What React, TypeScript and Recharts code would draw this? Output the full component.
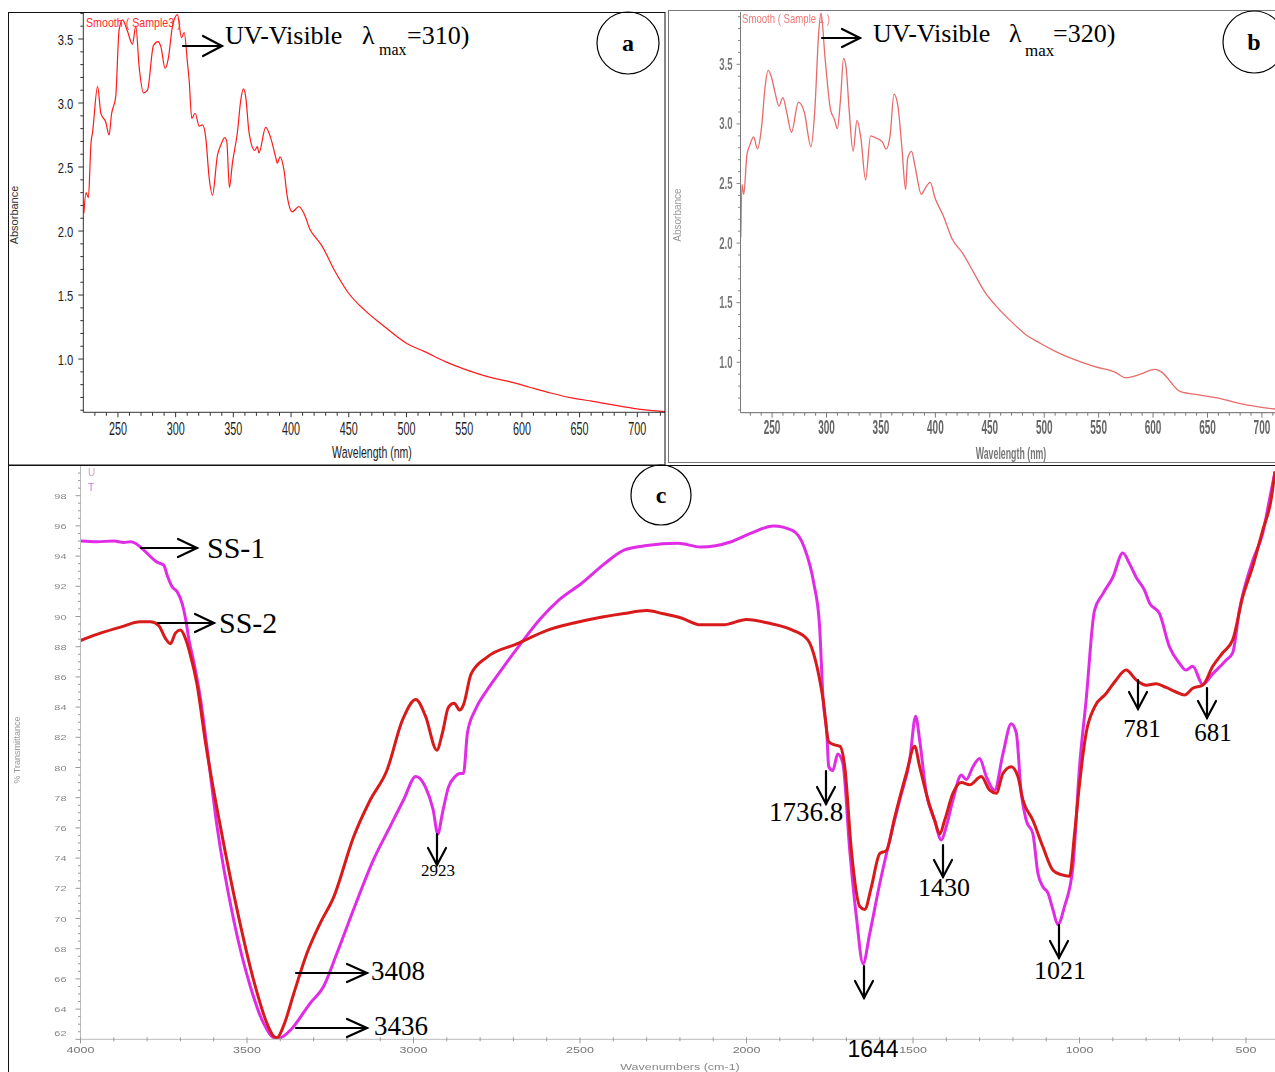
import React from 'react';
import { LineChart, Line, XAxis, YAxis } from 'recharts';

// ---------- UV-Vis spectrum, sample 3 (panel a) ----------
const uvA_wavelength = [
  220.5, 222.4, 224.4, 226.7, 228, 232.4, 235.2, 239.5, 242.4, 244.4, 248.1, 251, 254, 258.3, 262.6,
  265.5, 268.4, 272.2, 275.6, 280.8, 284.8, 287.2, 290.9, 293.5, 297.3, 301.6, 305.1, 307.4, 310.3,
  311.7, 314, 316.9, 320.4, 323.3, 326.1, 329, 331.9, 336.2, 339.1, 342.5, 344.3, 346.6, 349.2, 353.5,
  356.4, 358.7, 360.7, 363.6, 368.5, 370.8, 372.2, 378, 382.3, 386.6, 388.1, 390.4, 393.8, 396.7, 401,
  406.8, 412.5, 416, 421.2, 425.6, 438.4, 449.4, 464, 478.7, 500.6, 515.3, 533.6, 551.9, 570.2, 588.5,
  606.7, 625, 643.3, 661.6, 680, 698, 724,
];
const uvA_absorbance = [
  2.14, 2.3, 2.26, 2.69, 2.77, 3.13, 2.92, 2.85, 2.75, 2.91, 3.05, 3.57, 3.65, 3.56, 3.46,
  3.6, 3.28, 3.08, 3.1, 3.45, 3.48, 3.44, 3.27, 3.34, 3.6, 3.69, 3.51, 3.55, 3.31,
  3.18, 2.88, 2.92, 2.82, 2.83, 2.73, 2.42, 2.28, 2.59, 2.67, 2.73, 2.7, 2.34, 2.53, 2.77,
  3.02, 3.11, 3.05, 2.77, 2.63, 2.66, 2.61, 2.81, 2.73, 2.58, 2.53, 2.58, 2.48, 2.27, 2.15,
  2.19, 2.11, 2.02, 1.95, 1.9, 1.68, 1.52, 1.38, 1.27, 1.12, 1.06, 0.98, 0.915, 0.863, 0.825,
  0.78, 0.735, 0.696, 0.67, 0.64, 0.613, 0.59,
];

// ---------- UV-Vis spectrum, sample 1 (panel b) ----------
const uvB_wavelength = [
  221.3, 222.3, 224, 226.9, 229.5, 233, 236.6, 240.2, 243.7, 246.3, 249.2, 252.8, 256.3, 259.9, 263.4,
  267.8, 274.2, 279.6, 285.7, 289.3, 292.8, 295, 298.6, 303.7, 307.2, 310, 312.9, 315.7, 317.9, 320.8,
  324.4, 328, 331.6, 335.9, 340.5, 345.9, 351.3, 354.8, 358.4, 362, 365.6, 369.1, 372.7, 374.5, 378.1,
  381.6, 387.1, 390.6, 395.3, 399.6, 406.8, 415.7, 424.7, 435.4, 446.1, 455.1, 467.7, 482, 496.3, 510.7,
  528.6, 546.5, 564.5, 575.2, 585.9, 602, 607.5, 625.3, 643.2, 661.1, 679, 697, 713,
];
const uvB_absorbance = [
  2.05, 2.49, 2.41, 2.74, 2.82, 2.89, 2.79, 2.96, 3.32, 3.45, 3.4, 3.26, 3.15, 3.22, 3.1,
  2.93, 3.18, 3.1, 2.81, 3.12, 3.76, 3.93, 3.56, 3.12, 3.04, 2.96, 3.21, 3.55, 3.48, 3.12,
  2.77, 3.03, 2.88, 2.53, 2.9, 2.88, 2.85, 2.79, 2.9, 3.25, 3.15, 2.82, 2.45, 2.71, 2.77,
  2.63, 2.41, 2.46, 2.51, 2.38, 2.24, 2.03, 1.92, 1.75, 1.58, 1.48, 1.36, 1.24, 1.16, 1.09,
  1.02, 0.963, 0.92, 0.87, 0.893, 0.94, 0.92, 0.753, 0.725, 0.697, 0.655, 0.626, 0.607,
];

// ---------- FTIR, SS-1 ----------
const ss1_wavenumber = [
  4000, 3950, 3900, 3870, 3850, 3835, 3815, 3770, 3750, 3740, 3725, 3710, 3694, 3684, 3675, 3660, 3640,
  3620, 3590, 3540, 3490, 3450, 3415, 3400, 3370, 3310, 3270, 3230, 3180, 3120, 3070, 3030, 2993, 2964,
  2941, 2927, 2913, 2895, 2875, 2861, 2850, 2838, 2815, 2780, 2735, 2678, 2621, 2563, 2495, 2426, 2368,
  2299, 2206, 2137, 2046, 1988, 1919, 1862, 1827, 1798, 1781, 1770, 1759, 1753, 1741, 1726, 1711, 1690,
  1670, 1650, 1630, 1600, 1570, 1540, 1510, 1492, 1480, 1460, 1435, 1415, 1400, 1380, 1355, 1340, 1320,
  1300, 1280, 1255, 1230, 1205, 1190, 1175, 1160, 1140, 1125, 1110, 1095, 1080, 1065, 1045, 1020, 1000,
  980, 955, 930, 900, 870, 850, 830, 805, 790, 760, 730, 700, 680, 660, 630, 600, 560, 540, 520, 480,
  450, 430, 413,
];
const ss1_transmittance = [
  95.0, 94.95, 95.0, 94.9, 94.95, 94.85, 94.5, 93.6, 93.4, 92.75, 91.97, 91.65, 90.8, 89.8, 88.55, 87.0, 84.6,
  81.3, 76.1, 69.9, 65.5, 63.05, 62.07, 62.1, 62.6, 64.4, 65.5, 67.7, 70.6, 73.9, 76.1, 77.85, 79.4, 78.7,
  77.2, 75.6, 77.0, 78.7, 79.4, 79.6, 79.6, 82.3, 83.8, 85.1, 86.5, 88.2, 89.8, 91.1, 92.2, 93.5, 94.4,
  94.7, 94.85, 94.6, 94.95, 95.5, 96.0, 95.7, 94.6, 92.2, 89.5, 84.5, 82.3, 80.05, 79.8, 80.9, 80.3, 74.5,
  70.1, 67.0, 69.0, 72.3, 75.2, 77.85, 80.5, 83.4, 81.8, 78.3, 76.5, 75.2, 76.1, 77.85, 79.5, 79.2, 80.05,
  80.6, 79.4, 78.5, 80.9, 82.9, 82.3, 78.3, 76.5, 75.6, 73.0, 72.1, 71.7, 70.6, 69.6, 70.8, 73.4, 80.05,
  84.5, 90.4, 91.5, 92.6, 94.2, 93.5, 92.6, 91.75, 90.9, 90.2, 88.0, 86.9, 86.45, 86.7, 85.5, 86.2, 87.1, 87.6, 90.4, 93.7,
  95.5, 97.7, 99.6,
];

// ---------- FTIR, SS-2 ----------
const ss2_wavenumber = [
  4000, 3995, 3940, 3880, 3820, 3790, 3765, 3745, 3730, 3715, 3700, 3685, 3670, 3650, 3625, 3580, 3530,
  3480, 3440, 3420, 3410, 3390, 3360, 3320, 3280, 3240, 3180, 3130, 3080, 3033, 2993, 2964, 2930, 2913,
  2895, 2878, 2861, 2850, 2827, 2780, 2688, 2597, 2482, 2368, 2299, 2253, 2196, 2137, 2069, 2000, 1931,
  1862, 1816, 1793, 1770, 1753, 1736, 1719, 1705, 1685, 1660, 1645, 1625, 1600, 1580, 1555, 1520, 1495,
  1480, 1455, 1435, 1420, 1405, 1380, 1355, 1330, 1295, 1270, 1250, 1230, 1205, 1185, 1170, 1140, 1110,
  1080, 1055, 1030, 1015, 1000, 980, 955, 920, 890, 860, 830, 800, 770, 740, 710, 685, 660, 630, 600,
  570, 540, 510, 480, 450, 425, 413,
];
const ss2_transmittance = [
  88.4, 88.45, 88.9, 89.3, 89.65, 89.65, 89.4, 88.55, 88.2, 88.9, 89.1, 88.55, 87.45, 85.5, 81.7, 76.1, 70.6,
  65.9, 63.05, 62.2, 62.1, 62.9, 65.0, 67.7, 69.7, 71.4, 75.4, 77.85, 79.8, 83.15, 84.5, 83.4, 81.15, 82.3,
  84.0, 84.25, 83.8, 84.15, 86.2, 87.3, 88.2, 89.1, 89.75, 90.2, 90.4, 90.2, 89.9, 89.45, 89.45, 89.8, 89.55,
  89.1, 88.45, 87.1, 84.5, 81.7, 81.5, 81.4, 80.05, 74.5, 70.8, 70.6, 72.1, 74.3, 74.5, 76.7, 79.6, 81.4,
  80.05, 77.85, 76.5, 75.6, 76.5, 78.3, 79.0, 78.85, 79.4, 78.5, 78.3, 79.6, 80.05, 79.4, 77.85, 76.5, 74.75,
  73.2, 72.9, 72.8, 75.6, 78.9, 82.3, 84.0, 84.9, 85.8, 86.45, 85.8, 85.45, 85.55, 85.3, 85.0, 84.8, 85.25, 85.45, 86.7,
  87.6, 88.45, 91.3, 93.3, 95.7, 97.7, 99.6,
];

// ---------- axis tick labels ----------
const uvTicksX = [250, 300, 350, 400, 450, 500, 550, 600, 650, 700];
const uvTicksY = [1.0, 1.5, 2.0, 2.5, 3.0, 3.5];
const irTicksX = [4000, 3500, 3000, 2500, 2000, 1500, 1000, 500];
const irTicksY = [62, 64, 66, 68, 70, 72, 74, 76, 78, 80, 82, 84, 86, 88, 90, 92, 94, 96, 98];

const uvAData = uvA_wavelength.map((nm, i) => ({ nm, abs: uvA_absorbance[i] }));
const uvBData = uvB_wavelength.map((nm, i) => ({ nm, abs: uvB_absorbance[i] }));
const ss1Data = ss1_wavenumber.map((nu, i) => ({ nu, t: ss1_transmittance[i] }));
const ss2Data = ss2_wavenumber.map((nu, i) => ({ nu, t: ss2_transmittance[i] }));

const SANS = "'Liberation Sans', Arial, sans-serif";
const SERIF = "'Liberation Serif', 'Times New Roman', serif";

// integer ranges for minor tick marks
const steps = (from: number, to: number, div: number) => {
  const out: number[] = [];
  for (let i = from; i <= to; i++) out.push(i / div);
  return out;
};
const isMajor = (v: number, arr: number[]) => arr.some((t) => Math.abs(t - v) < 1e-6);

const uvMinorX = steps(23, 72, 0.1).map((v) => Math.round(v));
const uvMinorYA = steps(6, 37, 10);
const uvMinorYB = steps(6, 39, 10);
const irMinorX = steps(5, 40, 1).map((v) => v * 100);
const irMinorY = steps(124, 200, 2);

type TProps = { x: number; y: number; sx?: number; sy?: number; anchor?: string; size: number; fill: string; family?: string; weight?: string | number; rotate?: number; children: React.ReactNode };
const SText = ({ x, y, sx = 1, sy = 1, anchor = 'start', size, fill, family = SANS, weight, rotate, children }: TProps) => (
  <text
    transform={`translate(${x},${y})${rotate ? ` rotate(${rotate})` : ''} scale(${sx},${sy})`}
    textAnchor={anchor as any}
    fontSize={size}
    fill={fill}
    fontFamily={family}
    fontWeight={weight}
  >
    {children}
  </text>
);

// ---- tick renderers ----
const UvAXTick = (p: any) => {
  const { x, y, payload } = p;
  const major = isMajor(payload.value, uvTicksX);
  return (
    <g>
      <line x1={x} x2={x} y1={y} y2={y + (major ? 5 : 3.5)} stroke="#333" />
      {major && <SText x={x} y={y + 23} sx={0.6} anchor="middle" size={18} fill="#222">{payload.value}</SText>}
    </g>
  );
};
const UvAYTick = (p: any) => {
  const { x, y, payload } = p;
  const major = isMajor(payload.value, uvTicksY);
  return (
    <g>
      <line x1={x} x2={x - (major ? 5 : 3)} y1={y} y2={y} stroke="#333" />
      {major && <SText x={x - 10} y={y + 5.5} sx={0.75} anchor="end" size={15} fill="#222">{payload.value.toFixed(1)}</SText>}
    </g>
  );
};
const UvBXTick = (p: any) => {
  const { x, y, payload } = p;
  const major = isMajor(payload.value, uvTicksX);
  return (
    <g>
      <line x1={x} x2={x} y1={y} y2={y + (major ? 5 : 3)} stroke="#777" />
      {major && <SText x={x} y={y + 21} sx={0.5} anchor="middle" size={20} weight="bold" fill="#666">{payload.value}</SText>}
    </g>
  );
};
const UvBYTick = (p: any) => {
  const { x, y, payload } = p;
  const major = isMajor(payload.value, uvTicksY);
  return (
    <g>
      <line x1={x} x2={x - (major ? 4 : 2.5)} y1={y} y2={y} stroke="#888" />
      {major && <SText x={x - 8} y={y + 5.5} sx={0.6} anchor="end" size={16} weight="bold" fill="#777">{payload.value.toFixed(1)}</SText>}
    </g>
  );
};
const IrXTick = (p: any) => {
  const { x, y, payload } = p;
  const major = isMajor(payload.value, irTicksX);
  return (
    <g>
      <line x1={x} x2={x} y1={y - 2} y2={y + (major ? 4 : 2)} stroke="#999" />
      {major && <SText x={x} y={y + 14} sx={1.25} sy={0.85} anchor="middle" size={10} fill="#777">{payload.value}</SText>}
    </g>
  );
};
const IrYTick = (p: any) => {
  const { x, y, payload } = p;
  const major = isMajor(payload.value, irTicksY);
  const lift = payload.value === 62 ? -6 : 0;
  return (
    <g>
      <line x1={x} x2={x - (major ? 5 : 2.5)} y1={y} y2={y} stroke="#999" />
      {major && <SText x={x - 14} y={y + 3 + lift} sx={1.15} sy={0.85} anchor="end" size={9.5} fill="#888">{payload.value}</SText>}
    </g>
  );
};

const Arrow = ({ x1, y1, x2, y2, head = 17, half = 9, sw = 2.2 }: { x1: number; y1: number; x2: number; y2: number; head?: number; half?: number; sw?: number }) => {
  const a = Math.atan2(y2 - y1, x2 - x1);
  const bx = x2 - head * Math.cos(a);
  const by = y2 - head * Math.sin(a);
  const px = -Math.sin(a) * half;
  const py = Math.cos(a) * half;
  return (
    <g stroke="#000" strokeWidth={sw} fill="none" strokeLinecap="round">
      <line x1={x1} y1={y1} x2={x2} y2={y2} />
      <polyline points={`${bx + px},${by + py} ${x2},${y2} ${bx - px},${by - py}`} strokeLinejoin="miter" />
    </g>
  );
};

const Badge = ({ cx, cy, r, letter }: { cx: number; cy: number; r: number; letter: string }) => (
  <g>
    <circle cx={cx} cy={cy} r={r} fill="none" stroke="#000" strokeWidth={1.2} />
    <text x={cx} y={cy + 8} textAnchor="middle" fontFamily={SERIF} fontWeight="bold" fontSize={24} fill="#000">{letter}</text>
  </g>
);

const abs = (left: number, top: number, w: number, h: number): React.CSSProperties => ({
  position: 'absolute', left, top, width: w, height: h,
});

export default function App() {
  return (
    <div style={{ position: 'absolute', left: 0, top: 0, width: 1275, height: 1072, overflow: 'hidden', background: '#fff' }}>
      {/* panel a */}
      <div style={abs(8, 12, 657, 453)}>
        <LineChart width={657} height={453} data={uvAData} margin={{ top: 0, right: 0, bottom: 0, left: 0 }}>
          <XAxis dataKey="nm" type="number" domain={[220, 724]} allowDataOverflow ticks={uvMinorX} interval={0}
            tick={UvAXTick} tickLine={false} tickSize={0} tickMargin={0} height={52.7} axisLine={{ stroke: '#333' }} />
          <YAxis type="number" domain={[0.584, 3.711]} allowDataOverflow ticks={uvMinorYA} interval={0}
            tick={UvAYTick} tickLine={false} tickSize={0} tickMargin={0} width={75.3} axisLine={{ stroke: '#333' }} />
          <Line dataKey="abs" type="monotone" stroke="#ff1a1a" strokeWidth={1.2} dot={false} isAnimationActive={false} />
        </LineChart>
        <svg width={657} height={453} style={{ position: 'absolute', left: 0, top: 0, pointerEvents: 'none' }}>
          <SText x={78} y={15} sx={0.82} size={13} fill="#ff2a2a">Smooth ( Sample3 )</SText>
          <SText x={10} y={203} rotate={-90} anchor="middle" size={11} fill="#333">Absorbance</SText>
          <SText x={364} y={446} sx={0.62} anchor="middle" size={17} fill="#222">Wavelength (nm)</SText>
        </svg>
      </div>

      {/* panel b */}
      <div style={{ ...abs(668, 10, 607, 452), filter: 'blur(0.6px)' }}>
        <LineChart width={607} height={452} data={uvBData} margin={{ top: 2, right: 0, bottom: 0, left: 0 }}>
          <XAxis dataKey="nm" type="number" domain={[221, 712]} allowDataOverflow ticks={uvMinorX.filter((v) => v <= 710)} interval={0}
            tick={UvBXTick} tickLine={false} tickSize={0} tickMargin={0} height={49.3} axisLine={{ stroke: '#666' }} />
          <YAxis type="number" domain={[0.577, 3.939]} allowDataOverflow ticks={uvMinorYB} interval={0}
            tick={UvBYTick} tickLine={false} tickSize={0} tickMargin={0} width={72.5} axisLine={{ stroke: '#777' }} />
          <Line dataKey="abs" type="monotone" stroke="#e86a6a" strokeWidth={1.3} dot={false} isAnimationActive={false} />
        </LineChart>
        <svg width={607} height={452} style={{ position: 'absolute', left: 0, top: 0, pointerEvents: 'none' }}>
          <SText x={74} y={13} sx={0.8} size={12} fill="#f07878">Smooth ( Sample 1 )</SText>
          <SText x={13} y={205} rotate={-90} anchor="middle" size={10} fill="#999">Absorbance</SText>
          <SText x={343} y={449} sx={0.55} anchor="middle" size={16} weight="bold" fill="#777">Wavelength (nm)</SText>
        </svg>
      </div>

      {/* panel c */}
      <div style={{ ...abs(8, 465, 1267, 607), filter: 'blur(0.45px)' }}>
        <LineChart width={1267} height={607} margin={{ top: 0.5, right: 0, bottom: 0, left: 0 }}>
          <XAxis dataKey="nu" type="number" reversed domain={[413, 4000]} allowDataOverflow ticks={irMinorX} interval={0}
            tick={IrXTick} tickLine={false} tickSize={0} tickMargin={0} height={32.7} axisLine={{ stroke: '#bbb' }} />
          <YAxis type="number" domain={[62, 100]} allowDataOverflow ticks={irMinorY} interval={0}
            tick={IrYTick} tickLine={false} tickSize={0} tickMargin={0} width={72.5} axisLine={{ stroke: '#bbb' }} />
          <Line data={ss1Data} dataKey="t" type="monotone" stroke="#e02ce6" strokeWidth={3} dot={false} isAnimationActive={false} />
          <Line data={ss2Data} dataKey="t" type="monotone" stroke="#d81a1a" strokeWidth={3} dot={false} isAnimationActive={false} />
        </LineChart>
        <svg width={1267} height={607} style={{ position: 'absolute', left: 0, top: 0, pointerEvents: 'none' }}>
          <SText x={80} y={11} size={10} fill="#d8a0c0">U</SText>
          <SText x={80} y={26} size={10} fill="#d070d8">T</SText>
          <SText x={12} y={285} rotate={-90} anchor="middle" size={9} fill="#999">% Transmittance</SText>
          <SText x={672} y={605} sx={1.25} sy={0.85} anchor="middle" size={10} fill="#888">Wavenumbers (cm-1)</SText>
        </svg>
      </div>

      {/* frames, annotations */}
      <svg width={1275} height={1072} style={{ position: 'absolute', left: 0, top: 0, pointerEvents: 'none' }}>
        <rect x={8.5} y={12.5} width={656.5} height={452.5} fill="none" stroke="#111" strokeWidth={1} />
        <line x1={668.5} y1={10} x2={668.5} y2={462} stroke="#777" />
        <line x1={668} y1={10.5} x2={1275} y2={10.5} stroke="#777" />
        <line x1={668} y1={462.5} x2={1275} y2={462.5} stroke="#777" />
        <line x1={8.5} y1={465} x2={8.5} y2={1072} stroke="#111" />
        <line x1={8} y1={465.5} x2={1275} y2={465.5} stroke="#111" />

        {/* panel a */}
        <Arrow x1={183} y1={46} x2={222} y2={46} head={19} half={10} />
        <text x={225} y={43.5} fontFamily={SERIF} fontSize={26} fill="#000">UV-Visible</text>
        <text x={362} y={43.5} fontFamily={SERIF} fontSize={26} fill="#000">λ</text>
        <text x={379} y={55} fontFamily={SERIF} fontSize={16} fill="#000">max</text>
        <text x={407} y={43.5} fontFamily={SERIF} fontSize={26} fill="#000">=310)</text>
        <Badge cx={628} cy={43} r={31} letter="a" />

        {/* panel b */}
        <Arrow x1={822} y1={38} x2={860} y2={38} head={18} half={9} />
        <text x={873} y={42} fontFamily={SERIF} fontSize={26} fill="#000">UV-Visible</text>
        <text x={1009} y={42} fontFamily={SERIF} fontSize={26} fill="#000">λ</text>
        <text x={1025} y={56} fontFamily={SERIF} fontSize={17} fill="#000">max</text>
        <text x={1053} y={42} fontFamily={SERIF} fontSize={26} fill="#000">=320)</text>
        <Badge cx={1254} cy={42} r={31} letter="b" />

        {/* panel c */}
        <Badge cx={661} cy={495} r={30} letter="c" />
        <Arrow x1={141} y1={548} x2={197} y2={548} head={19} half={9} />
        <text x={207} y={558} fontFamily={SERIF} fontSize={30} fill="#000">SS-1</text>
        <Arrow x1={158} y1={623} x2={214} y2={623} head={19} half={9} />
        <text x={219} y={633} fontFamily={SERIF} fontSize={30} fill="#000">SS-2</text>
        <Arrow x1={296} y1={973} x2={367} y2={973} head={20} half={9} />
        <text x={371} y={980} fontFamily={SERIF} fontSize={27} fill="#000">3408</text>
        <Arrow x1={296} y1={1028} x2={367} y2={1028} head={20} half={9} />
        <text x={374} y={1035} fontFamily={SERIF} fontSize={27} fill="#000">3436</text>
        <Arrow x1={437} y1={834} x2={437} y2={865} head={17} half={9} />
        <text x={438} y={876} textAnchor="middle" fontFamily={SERIF} fontSize={17} fill="#000">2923</text>
        <Arrow x1={826} y1={771} x2={826} y2={804} head={17} half={9} />
        <text x={806} y={821} textAnchor="middle" fontFamily={SERIF} fontSize={27} fill="#000">1736.8</text>
        <Arrow x1={864} y1={966} x2={864} y2={998} head={17} half={9} />
        <text x={873} y={1057} textAnchor="middle" fontFamily={SANS} fontSize={23} fill="#000">1644</text>
        <Arrow x1={943} y1={845} x2={943} y2={877} head={17} half={9} />
        <text x={944} y={896} textAnchor="middle" fontFamily={SERIF} fontSize={26} fill="#000">1430</text>
        <Arrow x1={1059} y1={925} x2={1059} y2={958} head={17} half={9} />
        <text x={1060} y={979} textAnchor="middle" fontFamily={SERIF} fontSize={26} fill="#000">1021</text>
        <Arrow x1={1138} y1={680} x2={1138} y2={709} head={17} half={9} />
        <text x={1142} y={737} textAnchor="middle" fontFamily={SERIF} fontSize={25} fill="#000">781</text>
        <Arrow x1={1207} y1={688} x2={1207} y2={718} head={17} half={9} />
        <text x={1213} y={741} textAnchor="middle" fontFamily={SERIF} fontSize={25} fill="#000">681</text>
      </svg>
    </div>
  );
}
